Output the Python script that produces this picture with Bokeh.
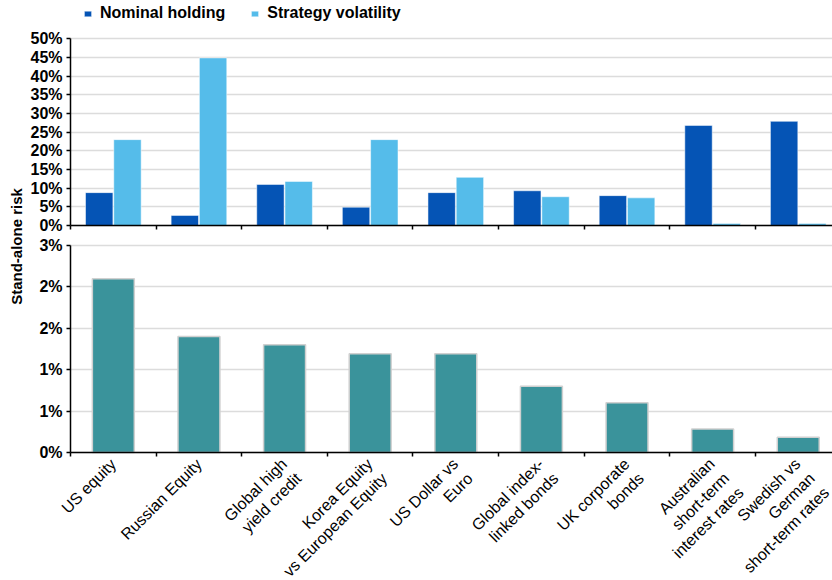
from math import pi

from bokeh.embed import file_html
from bokeh.models import (ColumnDataSource, FixedTicker, Grid, Label, Legend,
                          LegendItem, LinearAxis, Range1d)
from bokeh.plotting import figure
from bokeh.resources import INLINE

# ---- data -------------------------------------------------------------
categories = [
    "US equity",
    "Russian Equity",
    "Global high\nyield credit",
    "Korea Equity\nvs European Equity",
    "US Dollar vs\nEuro",
    "Global index-\nlinked bonds",
    "UK corporate\nbonds",
    "Australian\nshort-term\ninterest rates",
    "Swedish vs\nGerman\nshort-term rates",
]
nominal_holding = [8.8, 2.7, 11.0, 4.9, 8.8, 9.3, 8.0, 26.8, 27.9]        # %
strategy_volatility = [23.0, 44.9, 11.8, 23.0, 12.9, 7.7, 7.4, 0.5, 0.5]  # %
standalone_risk = [2.52, 1.68, 1.56, 1.43, 1.43, 0.96, 0.72, 0.34, 0.22]  # %

upper_ticks = [0, 5, 10, 15, 20, 25, 30, 35, 40, 45, 50]
upper_tick_labels = ["0%", "5%", "10%", "15%", "20%", "25%", "30%", "35%", "40%", "45%", "50%"]
lower_ticks = [0, 0.6, 1.2, 1.8, 2.4, 3.0]
lower_tick_labels = ["0%", "1%", "1%", "2%", "2%", "3%"]

# ---- styling ----------------------------------------------------------
FONT = "Liberation Sans"
DARK_BLUE = "#0554B5"
LIGHT_BLUE = "#55BCEA"
TEAL = "#3A939B"
GRID = "#DCDCDC"

n = len(categories)
centers = [i + 0.5 for i in range(n)]
boundaries = list(range(n + 1))
x_end = 8.9
src = ColumnDataSource(dict(center=centers, risk=standalone_risk))

# The plotting frame covers the whole canvas; the two stacked panels are
# laid out through their own vertical ranges and axes pinned at x = 0.
p = figure(
    width=832, height=580,
    x_range=Range1d(-0.818, x_end), y_range=Range1d(-1.855, 6.551),
    x_axis_type=None, y_axis_type=None,
    min_border=0, min_border_left=0, min_border_right=0, min_border_top=0, min_border_bottom=0,
    output_backend="svg", toolbar_location=None,
)
p.outline_line_color = None
p.background_fill_color = "white"
p.border_fill_color = "white"
p.extra_y_ranges = {"upper": Range1d(-95.1, 60.27)}

# ---- gridlines --------------------------------------------------------
p.add_layout(Grid(dimension=1, ticker=FixedTicker(ticks=upper_ticks), y_range_name="upper",
                  bounds=(0, 50), cross_bounds=(0, x_end),
                  grid_line_color=GRID, grid_line_width=1.5))
p.add_layout(Grid(dimension=1, ticker=FixedTicker(ticks=lower_ticks),
                  bounds=(0, 3), cross_bounds=(0, x_end),
                  grid_line_color=GRID, grid_line_width=1.5))

# ---- bars -------------------------------------------------------------
bw = 0.32
off = 0.165
r_nom = p.vbar(x=[c - off for c in centers], top=nominal_holding, width=bw, y_range_name="upper",
               fill_color=DARK_BLUE, line_color="white", line_alpha=0.5, line_width=1)
r_vol = p.vbar(x=[c + off for c in centers], top=strategy_volatility, width=bw, y_range_name="upper",
               fill_color=LIGHT_BLUE, line_color="white", line_alpha=0.5, line_width=1)
p.vbar(x="center", top="risk", width=0.49, source=src,
       fill_color=TEAL, line_color="#D0D0D0", line_width=1.5)


def style_axis(ax):
    ax.axis_line_color = "black"
    ax.axis_line_width = 1.5
    ax.major_tick_line_color = "black"
    ax.major_tick_line_width = 1.5
    ax.minor_tick_line_color = None
    ax.major_label_text_font = FONT
    ax.major_label_text_color = "black"


def value_axis(ticks, labels, top, range_name="default"):
    ax = LinearAxis(y_range_name=range_name, fixed_location=0, bounds=(0, top),
                    ticker=FixedTicker(ticks=ticks),
                    major_label_overrides=dict(zip(ticks, labels)))
    style_axis(ax)
    ax.major_tick_out = 4
    ax.major_tick_in = 0
    ax.major_label_standoff = 4
    ax.major_label_text_font_size = "16px"
    ax.major_label_text_font_style = "bold"
    return ax


def category_line(range_name="default"):
    # baseline with short ticks on the category boundaries
    ax = LinearAxis(y_range_name=range_name, fixed_location=0, bounds=(0, x_end),
                    ticker=FixedTicker(ticks=[], minor_ticks=boundaries))
    style_axis(ax)
    ax.minor_tick_line_color = "black"
    ax.minor_tick_line_width = 1.5
    ax.minor_tick_out = 4
    ax.minor_tick_in = 0
    return ax


# ---- upper panel axes -------------------------------------------------
p.add_layout(value_axis(upper_ticks, upper_tick_labels, 50, "upper"), "left")
p.add_layout(category_line("upper"), "below")

# ---- lower panel axes -------------------------------------------------
p.add_layout(value_axis(lower_ticks, lower_tick_labels, 3), "left")
p.add_layout(category_line(), "below")

# category names, slanted; wrapped names are nudged so their first line
# starts where a one-line name would
line_counts = [c.count("\n") + 1 for c in categories]
for k in sorted(set(line_counts)):
    idx = [i for i in range(n) if line_counts[i] == k]
    shift = 6.8 * (k - 1)
    ticks = [centers[i] + shift / 85.6 for i in idx]
    ax = LinearAxis(fixed_location=0, bounds=(0, x_end), ticker=FixedTicker(ticks=ticks),
                    major_label_overrides={t: categories[i] for t, i in zip(ticks, idx)})
    style_axis(ax)
    ax.axis_line_color = None
    ax.major_tick_line_color = None
    ax.major_tick_out = 0
    ax.major_tick_in = 0
    ax.major_label_orientation = pi / 4
    ax.major_label_standoff = round(9 + shift)
    ax.major_label_text_font_size = "16px"
    p.add_layout(ax, "below")

# ---- shared vertical title --------------------------------------------
p.add_layout(Label(x=16, y=334, x_units="screen", y_units="screen", angle=pi / 2,
                   text="Stand-alone risk", text_align="center", text_baseline="middle",
                   text_font=FONT, text_font_size="15px", text_font_style="bold",
                   text_color="black"))

# ---- legend -----------------------------------------------------------
legend = Legend(
    items=[LegendItem(label="Nominal holding", renderers=[r_nom]),
           LegendItem(label="Strategy volatility", renderers=[r_vol])],
    orientation="horizontal", location=(83, 558),
    glyph_width=9, glyph_height=7, label_standoff=8, spacing=25,
    padding=0, margin=0, border_line_color=None, background_fill_alpha=0,
    label_text_font=FONT, label_text_font_size="16px", label_text_font_style="bold",
    label_text_color="black",
)
p.add_layout(legend, "center")

open("out.html", "w").write(file_html(p, INLINE))
